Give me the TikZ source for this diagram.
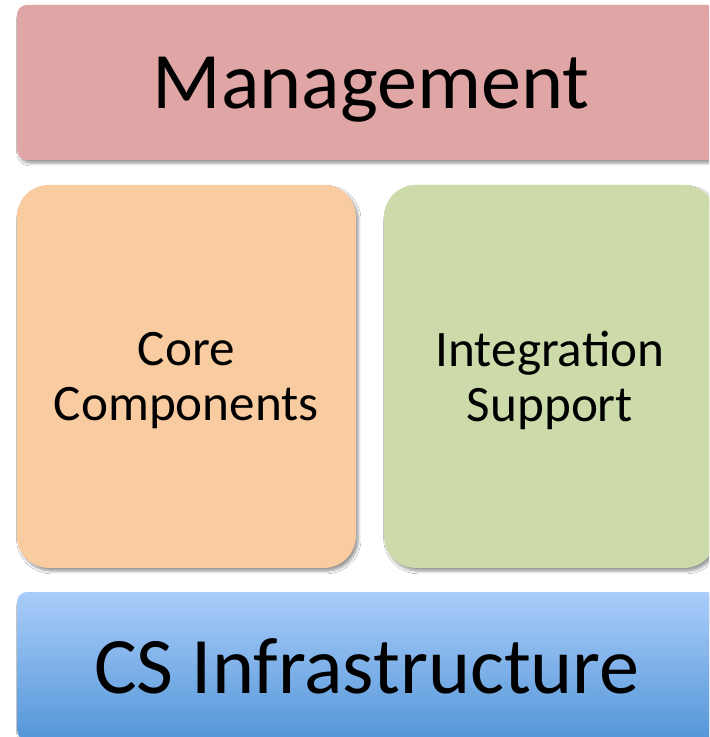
\documentclass[tikz,border=0pt]{standalone}
\usepackage{fontspec}
\setmainfont{Carlito}
\usepackage{tikz}
\usetikzlibrary{shadows.blur}
\definecolor{mgmtred}{RGB}{224,166,166}
\definecolor{coreorange}{RGB}{249,203,161}
\definecolor{integgreen}{RGB}{205,219,171}
\definecolor{infratop}{RGB}{170,205,250}
\definecolor{infrabottom}{RGB}{84,150,216}

\tikzset{
    layer/.style={rectangle, rounded corners=0.25cm, align=center, text depth=0pt,
        font=\fontsize{57}{68}\selectfont,
        blur shadow={shadow xshift=0.06cm, shadow yshift=-0.08cm, shadow blur steps=6, shadow opacity=40}},
    block/.style={layer, rounded corners=0.8cm, font=\fontsize{36.4}{39}\selectfont}
}

\begin{document}
\begin{tikzpicture}
            \clip (0,0) rectangle (17.725,-18.425);
            \fill[white] (0,0) rectangle (17.725,-18.425);

            \node[layer, fill=mgmtred, minimum width=17.7cm, minimum height=3.875cm] (mgmt) at (9.275,-2.06) {Management};

            \node[block, fill=coreorange, minimum width=8.475cm, minimum height=9.575cm] (core) at (4.66,-9.41) {Core\\Components};

            \node[block, fill=integgreen, minimum width=8.3cm, minimum height=9.575cm] (integ) at (13.75,-9.41) {Integration\\Support};

            \node[layer, top color=infratop, bottom color=infrabottom, minimum width=17.5cm, minimum height=3.7cm] (infra) at (9.175,-16.65) {CS Infrastructure};
        \end{tikzpicture}
\end{document}
